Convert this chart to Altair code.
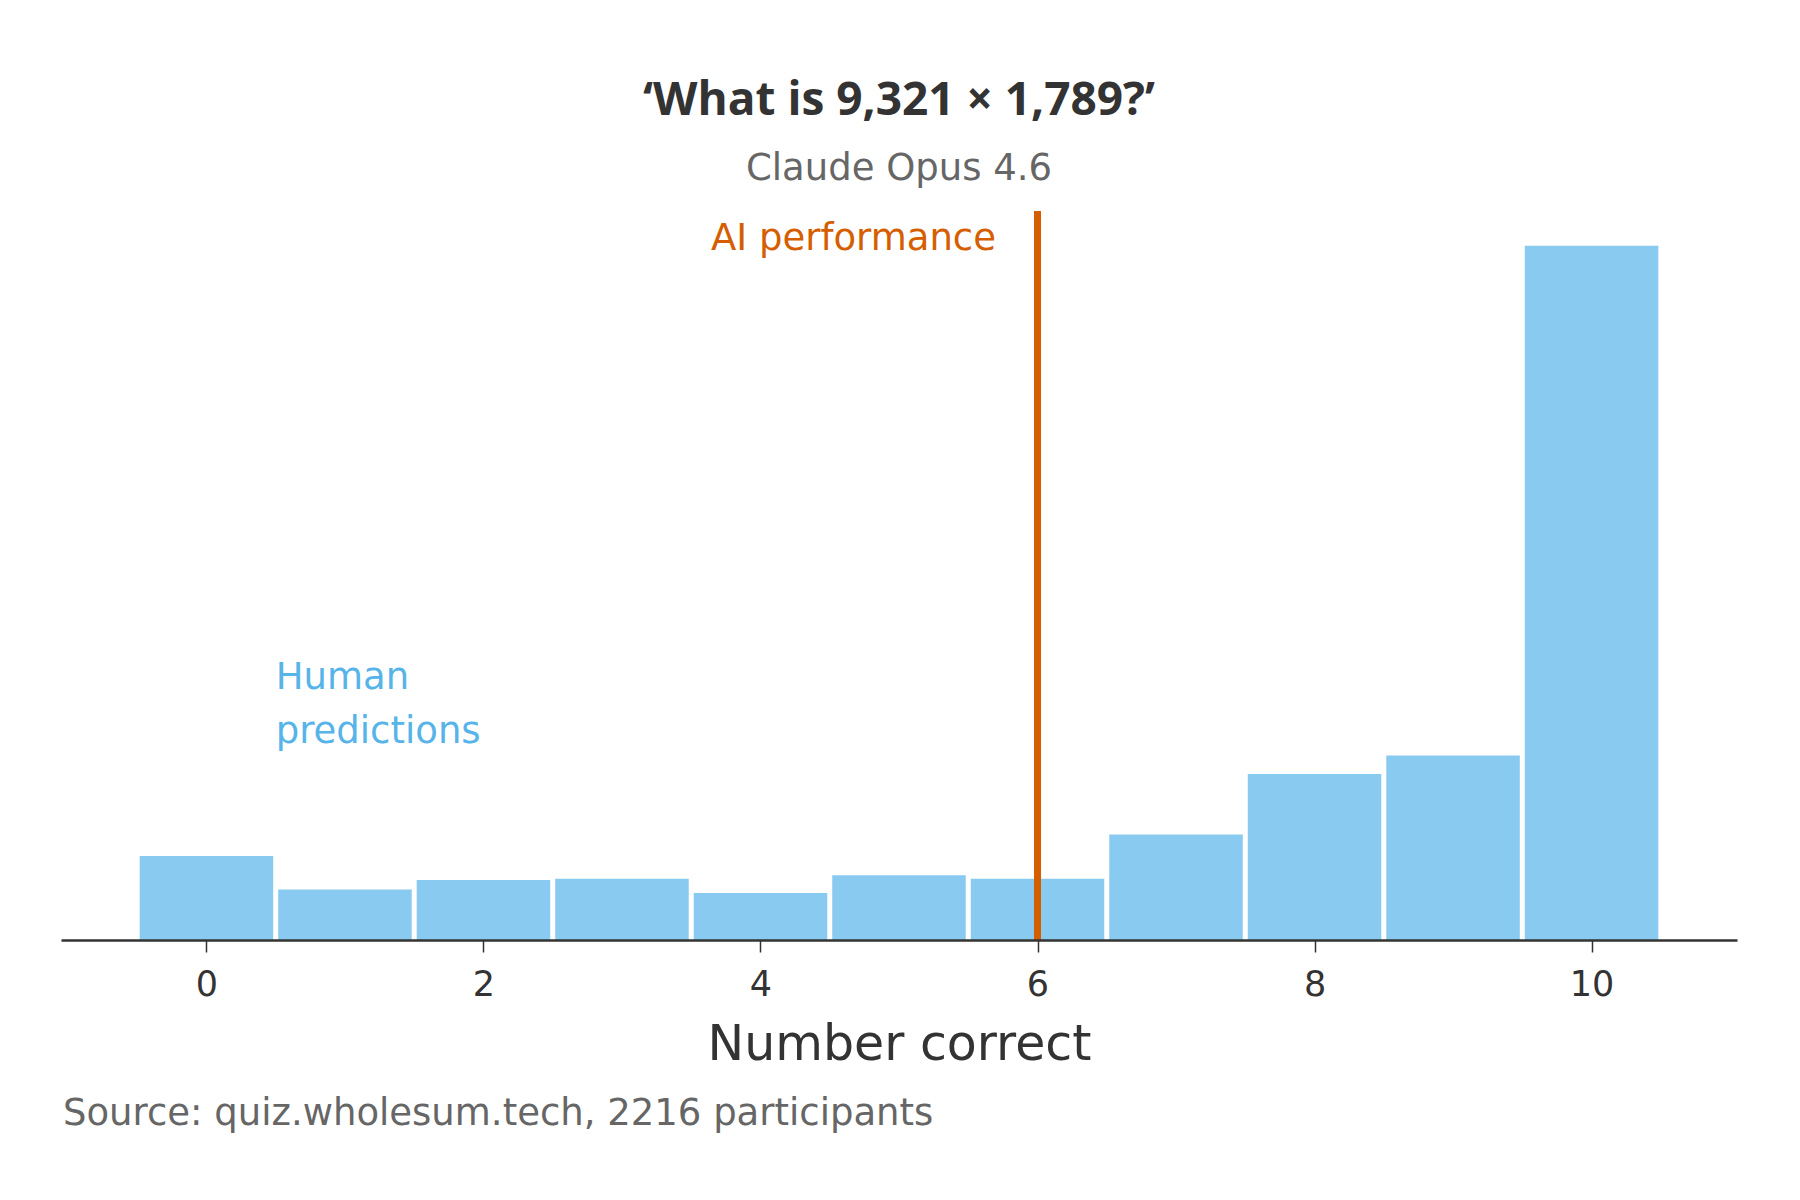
import altair as alt
import pandas as pd

FONT = "DejaVu Sans"
TITLE_FONT = "Open Sans"
BAR_COLOR = "#89CAF0"
AI_COLOR = "#D55E00"
HUMAN_COLOR = "#56B4E9"
DARK = "#333333"
GREY = "#666666"

# Histogram of human predictions (participants per number correct)
n_correct = [0, 1, 2, 3, 4, 5, 6, 7, 8, 9, 10]
participants = [118, 71, 84, 86, 66, 91, 86, 148, 233, 259, 974]
ai_score = 6

tick_values = [0, 2, 4, 6, 8, 10]

df = pd.DataFrame({"n": n_correct, "count": participants})
df["lo"] = df["n"] - 0.5
df["hi"] = df["n"] + 0.5

y_max = max(participants) * 1.05
xs = alt.Scale(domain=[-1.05, 11.05], nice=False, zero=False)
ys = alt.Scale(domain=[0, y_max], nice=False)

bars = alt.Chart(df).mark_rect(color=BAR_COLOR, xOffset=2.5, x2Offset=-2.5).encode(
    x=alt.X("lo:Q", scale=xs, axis=alt.Axis(
        values=tick_values, format="d", title="Number correct", grid=False,
        labelFontSize=35, labelColor=DARK, labelFont=FONT, labelPadding=15,
        tickSize=12, tickColor=DARK, tickWidth=1.5,
        domainColor=DARK, domainWidth=2.5, zindex=1,
        titleFontSize=49, titleFontWeight="normal", titleColor=DARK, titleFont=FONT,
        titlePadding=18,
    )),
    x2="hi:Q",
    y=alt.Y("count:Q", scale=ys, axis=None),
    y2=alt.datum(0),
)

ai_line = alt.Chart(pd.DataFrame({"x": [ai_score]})).mark_rule(
    color=AI_COLOR, strokeWidth=7
).encode(x=alt.X("x:Q", scale=xs))

ai_label = alt.Chart(pd.DataFrame({"x": [ai_score - 0.3], "y": [968], "t": ["AI performance"]})).mark_text(
    align="right", baseline="alphabetic", font=FONT, fontSize=37, color=AI_COLOR
).encode(x=alt.X("x:Q", scale=xs), y=alt.Y("y:Q", scale=ys), text="t:N")

human_label = alt.Chart(pd.DataFrame({"x": [0.5], "y": [352], "t": ["Human\npredictions"]})).mark_text(
    align="left", baseline="alphabetic", font=FONT, fontSize=37, color=HUMAN_COLOR,
    lineBreak="\n", lineHeight=54
).encode(x=alt.X("x:Q", scale=xs), y=alt.Y("y:Q", scale=ys), text="t:N")

source = alt.Chart(pd.DataFrame({"t": ["Source: quiz.wholesum.tech, 2216 participants"]})).mark_text(
    align="left", baseline="alphabetic", font=FONT, fontSize=37, color=GREY
).encode(x=alt.value(2), y=alt.value(914), text="t:N")

chart = (bars + ai_line + ai_label + human_label + source).properties(
    width=1676,
    height=729,
    background="white",
    title=alt.TitleParams(
        text="\u2018What is 9,321 \u00d7 1,789?\u2019",
        subtitle="Claude Opus 4.6",
        font=TITLE_FONT, fontSize=46, fontWeight="bold", color=DARK,
        subtitleFont=FONT, subtitleFontSize=37, subtitleColor=GREY,
        subtitlePadding=26, anchor="middle", offset=20,
    ),
    autosize=alt.AutoSizeParams(type="none"),
    padding={"left": 53, "top": 203, "right": 55, "bottom": 252},
).configure_view(stroke=None, strokeWidth=0)

chart.save("out.html", embed_options={"renderer": "svg", "actions": False})
